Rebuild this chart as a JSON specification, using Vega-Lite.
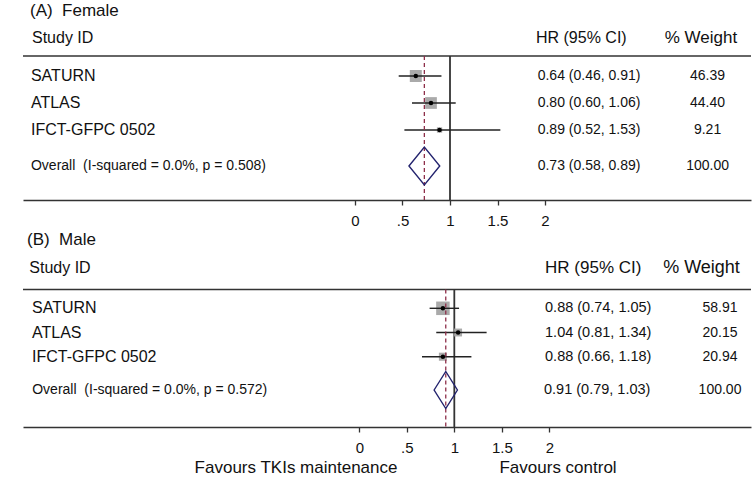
{
  "$schema": "https://vega.github.io/schema/vega-lite/v6.json",
  "padding": {"left": 22, "top": 0, "right": 0, "bottom": 0},
  "background": "white",
  "bounds": "flush",
  "spacing": 26,
  "config": {
    "view": {"stroke": null},
    "font": "Liberation Sans",
    "text": {"font": "Liberation Sans", "color": "#111", "baseline": "middle"},
    "axis": {
      "grid": false, "domainColor": "#333", "domainWidth": 1.6, "tickColor": "#333", "tickWidth": 1.3, "tickSize": 5,
      "labelFontSize": 15, "labelFont": "Liberation Sans", "labelColor": "#111", "labelPadding": 8,
      "labelExpr": "datum.value == 0.5 ? '.5' : datum.value == 1.5 ? '1.5' : toString(datum.value)"
    }
  },
  "datasets": {
    "studies": [
      {"panel": "A", "study": "SATURN", "order": 1, "hr": 0.64, "lo": 0.46, "hi": 0.91, "weight": 46.39, "ci": "0.64 (0.46, 0.91)"},
      {"panel": "A", "study": "ATLAS", "order": 2, "hr": 0.80, "lo": 0.60, "hi": 1.06, "weight": 44.40, "ci": "0.80 (0.60, 1.06)"},
      {"panel": "A", "study": "IFCT-GFPC 0502", "order": 3, "hr": 0.89, "lo": 0.52, "hi": 1.53, "weight": 9.21, "ci": "0.89 (0.52, 1.53)"},
      {"panel": "B", "study": "SATURN", "order": 1, "hr": 0.88, "lo": 0.74, "hi": 1.05, "weight": 58.91, "ci": "0.88 (0.74, 1.05)"},
      {"panel": "B", "study": "ATLAS", "order": 2, "hr": 1.04, "lo": 0.81, "hi": 1.34, "weight": 20.15, "ci": "1.04 (0.81, 1.34)"},
      {"panel": "B", "study": "IFCT-GFPC 0502", "order": 3, "hr": 0.88, "lo": 0.66, "hi": 1.18, "weight": 20.94, "ci": "0.88 (0.66, 1.18)"}
    ],
    "overall": [
      {"panel": "A", "label": "Overall\u00a0\u00a0(I-squared = 0.0%, p = 0.508)", "hr": 0.73, "lo": 0.58, "hi": 0.89, "weight": 100, "ci": "0.73 (0.58, 0.89)"},
      {"panel": "B", "label": "Overall\u00a0\u00a0(I-squared = 0.0%, p = 0.572)", "hr": 0.91, "lo": 0.79, "hi": 1.03, "weight": 100, "ci": "0.91 (0.79, 1.03)"}
    ]
  },
  "vconcat": [
    {
      "width": 728, "height": 200,
      "layer": [
        {"data": {"values": [{}]}, "mark": {"type": "rule", "color": "#333", "strokeWidth": 1.6},
         "encoding": {"y": {"datum": 0.2593, "scale": {"domain": [-1.8148, 5.5926], "reverse": true, "nice": false, "zero": false}, "axis": null}}},
        {"data": {"values": [{}]}, "mark": {"type": "rule", "color": "#333", "strokeWidth": 1.8},
         "encoding": {"x": {"datum": 1, "scale": {"domain": [-3.4947, 4.1684], "nice": false, "zero": false}, "axis": {"values": [0, 0.5, 1, 1.5, 2], "title": null}},
                      "y": {"datum": 0.2593}, "y2": {"datum": 5.5926}}},
        {"data": {"name": "studies"}, "transform": [{"filter": "datum.panel == 'A'"}],
         "mark": {"type": "square", "color": "#aaaaaa", "opacity": 1},
         "encoding": {"x": {"field": "hr", "type": "quantitative", "axis": {"values": [0, 0.5, 1, 1.5, 2], "title": null}},
                      "y": {"field": "order", "type": "quantitative"},
                      "size": {"field": "weight", "type": "quantitative", "scale": {"domain": [0, 100], "range": [0, 310]}, "legend": null}}},
        {"data": {"name": "studies"}, "transform": [{"filter": "datum.panel == 'A'"}],
         "mark": {"type": "rule", "color": "#222", "strokeWidth": 1.4},
         "encoding": {"x": {"field": "lo", "type": "quantitative", "axis": {"values": [0, 0.5, 1, 1.5, 2], "title": null}}, "x2": {"field": "hi"},
                      "y": {"field": "order", "type": "quantitative"}}},
        {"data": {"name": "studies"}, "transform": [{"filter": "datum.panel == 'A'"}],
         "mark": {"type": "circle", "color": "#000", "size": 20, "opacity": 1},
         "encoding": {"x": {"field": "hr", "type": "quantitative", "axis": {"values": [0, 0.5, 1, 1.5, 2], "title": null}},
                      "y": {"field": "order", "type": "quantitative"}}},
        {"data": {"name": "overall"}, "transform": [{"filter": "datum.panel == 'A'"}],
         "mark": {"type": "rule", "color": "#8e2f4a", "strokeWidth": 1.3, "strokeDash": [4, 3]},
         "encoding": {"x": {"field": "hr", "type": "quantitative", "axis": {"values": [0, 0.5, 1, 1.5, 2], "title": null}},
                      "y": {"datum": 0.2593}, "y2": {"datum": 5.5926}}},
        {"data": {"name": "overall"}, "transform": [{"filter": "datum.panel == 'A'"}],
         "mark": {"type": "point", "shape": "M-0.81,0L0,-1L0.81,0L0,1Z", "size": 1444, "filled": false, "color": "#23236e", "strokeWidth": 1.4, "opacity": 1},
         "encoding": {"x": {"field": "hr", "type": "quantitative", "axis": {"values": [0, 0.5, 1, 1.5, 2], "title": null}},
                      "y": {"datum": 4.333}}},
        {"data": {"values": [{}]}, "mark": {"type": "text", "text": "(A)\u00a0\u00a0Female", "fontSize": 17, "align": "left"},
         "encoding": {"x": {"datum": -3.421}, "y": {"datum": -1.389}}},
        {"data": {"values": [{}]}, "mark": {"type": "text", "text": "Study ID", "fontSize": 16, "align": "left"},
         "encoding": {"x": {"datum": -3.4}, "y": {"datum": -0.407}}},
        {"data": {"values": [{}]}, "mark": {"type": "text", "text": "HR (95% CI)", "fontSize": 16, "align": "left"},
         "encoding": {"x": {"datum": 1.905}, "y": {"datum": -0.407}}},
        {"data": {"values": [{}]}, "mark": {"type": "text", "text": "% Weight", "fontSize": 17, "align": "center"},
         "encoding": {"x": {"datum": 3.642}, "y": {"datum": -0.407}}},
        {"data": {"name": "studies"}, "transform": [{"filter": "datum.panel == 'A'"}],
         "mark": {"type": "text", "fontSize": 16, "align": "left"},
         "encoding": {"x": {"datum": -3.411}, "y": {"field": "order", "type": "quantitative"}, "text": {"field": "study"}}},
        {"data": {"name": "studies"}, "transform": [{"filter": "datum.panel == 'A'"}],
         "mark": {"type": "text", "fontSize": 14, "align": "left"},
         "encoding": {"x": {"datum": 1.923}, "y": {"field": "order", "type": "quantitative"}, "text": {"field": "ci"}}},
        {"data": {"name": "studies"}, "transform": [{"filter": "datum.panel == 'A'"}],
         "mark": {"type": "text", "fontSize": 14, "align": "center"},
         "encoding": {"x": {"datum": 3.711}, "y": {"field": "order", "type": "quantitative"}, "text": {"field": "weight", "format": ".2f"}}},
        {"data": {"name": "overall"}, "transform": [{"filter": "datum.panel == 'A'"}],
         "mark": {"type": "text", "fontSize": 14, "align": "left"},
         "encoding": {"x": {"datum": -3.411}, "y": {"datum": 4.333}, "text": {"field": "label"}}},
        {"data": {"name": "overall"}, "transform": [{"filter": "datum.panel == 'A'"}],
         "mark": {"type": "text", "fontSize": 14, "align": "left"},
         "encoding": {"x": {"datum": 1.923}, "y": {"datum": 4.333}, "text": {"field": "ci"}}},
        {"data": {"name": "overall"}, "transform": [{"filter": "datum.panel == 'A'"}],
         "mark": {"type": "text", "fontSize": 14, "align": "center"},
         "encoding": {"x": {"datum": 3.711}, "y": {"datum": 4.333}, "text": {"field": "weight", "format": ".2f"}}}
      ]
    },
    {
      "width": 728, "height": 201,
      "layer": [
        {"data": {"values": [{}]}, "mark": {"type": "rule", "color": "#333", "strokeWidth": 1.6},
         "encoding": {"y": {"datum": 0.223, "scale": {"domain": [-2.401, 5.905], "reverse": true, "nice": false, "zero": false}, "axis": null}}},
        {"data": {"values": [{}]}, "mark": {"type": "rule", "color": "#333", "strokeWidth": 1.8},
         "encoding": {"x": {"datum": 1, "scale": {"domain": [-3.54, 4.123], "nice": false, "zero": false}, "axis": {"values": [0, 0.5, 1, 1.5, 2], "title": null}},
                      "y": {"datum": 0.223}, "y2": {"datum": 5.905}}},
        {"data": {"name": "studies"}, "transform": [{"filter": "datum.panel == 'B'"}],
         "mark": {"type": "square", "color": "#aaaaaa", "opacity": 1},
         "encoding": {"x": {"field": "hr", "type": "quantitative", "axis": {"values": [0, 0.5, 1, 1.5, 2], "title": null}},
                      "y": {"field": "order", "type": "quantitative"},
                      "size": {"field": "weight", "type": "quantitative", "scale": {"domain": [0, 100], "range": [0, 170]}, "legend": null}}},
        {"data": {"name": "studies"}, "transform": [{"filter": "datum.panel == 'B'"}],
         "mark": {"type": "rule", "color": "#222", "strokeWidth": 1.4},
         "encoding": {"x": {"field": "lo", "type": "quantitative", "axis": {"values": [0, 0.5, 1, 1.5, 2], "title": null}}, "x2": {"field": "hi"},
                      "y": {"field": "order", "type": "quantitative"}}},
        {"data": {"name": "studies"}, "transform": [{"filter": "datum.panel == 'B'"}],
         "mark": {"type": "circle", "color": "#000", "size": 20, "opacity": 1},
         "encoding": {"x": {"field": "hr", "type": "quantitative", "axis": {"values": [0, 0.5, 1, 1.5, 2], "title": null}},
                      "y": {"field": "order", "type": "quantitative"}}},
        {"data": {"name": "overall"}, "transform": [{"filter": "datum.panel == 'B'"}],
         "mark": {"type": "rule", "color": "#8e2f4a", "strokeWidth": 1.3, "strokeDash": [4, 3]},
         "encoding": {"x": {"field": "hr", "type": "quantitative", "axis": {"values": [0, 0.5, 1, 1.5, 2], "title": null}},
                      "y": {"datum": 0.223}, "y2": {"datum": 5.905}}},
        {"data": {"name": "overall"}, "transform": [{"filter": "datum.panel == 'B'"}],
         "mark": {"type": "point", "shape": "M-0.63,0L0,-1L0.63,0L0,1Z", "size": 1369, "filled": false, "color": "#23236e", "strokeWidth": 1.4, "opacity": 1},
         "encoding": {"x": {"field": "hr", "type": "quantitative", "axis": {"values": [0, 0.5, 1, 1.5, 2], "title": null}},
                      "y": {"datum": 4.376}}},
        {"data": {"values": [{}]}, "mark": {"type": "text", "text": "(B)\u00a0\u00a0Male", "fontSize": 17, "align": "left"},
         "encoding": {"x": {"datum": -3.498}, "y": {"datum": -1.802}}},
        {"data": {"values": [{}]}, "mark": {"type": "text", "text": "Study ID", "fontSize": 16, "align": "left"},
         "encoding": {"x": {"datum": -3.474}, "y": {"datum": -0.653}}},
        {"data": {"values": [{}]}, "mark": {"type": "text", "text": "HR (95% CI)", "fontSize": 17, "align": "left"},
         "encoding": {"x": {"datum": 1.955}, "y": {"datum": -0.653}}},
        {"data": {"values": [{}]}, "mark": {"type": "text", "text": "% Weight", "fontSize": 18, "align": "center"},
         "encoding": {"x": {"datum": 3.602}, "y": {"datum": -0.653}}},
        {"data": {"name": "studies"}, "transform": [{"filter": "datum.panel == 'B'"}],
         "mark": {"type": "text", "fontSize": 16, "align": "left"},
         "encoding": {"x": {"datum": -3.445}, "y": {"field": "order", "type": "quantitative"}, "text": {"field": "study"}}},
        {"data": {"name": "studies"}, "transform": [{"filter": "datum.panel == 'B'"}],
         "mark": {"type": "text", "fontSize": 14.5, "align": "left"},
         "encoding": {"x": {"datum": 1.955}, "y": {"field": "order", "type": "quantitative"}, "text": {"field": "ci"}}},
        {"data": {"name": "studies"}, "transform": [{"filter": "datum.panel == 'B'"}],
         "mark": {"type": "text", "fontSize": 14, "align": "center"},
         "encoding": {"x": {"datum": 3.797}, "y": {"field": "order", "type": "quantitative"}, "text": {"field": "weight", "format": ".2f"}}},
        {"data": {"name": "overall"}, "transform": [{"filter": "datum.panel == 'B'"}],
         "mark": {"type": "text", "fontSize": 14, "align": "left"},
         "encoding": {"x": {"datum": -3.443}, "y": {"datum": 4.376}, "text": {"field": "label"}}},
        {"data": {"name": "overall"}, "transform": [{"filter": "datum.panel == 'B'"}],
         "mark": {"type": "text", "fontSize": 14.5, "align": "left"},
         "encoding": {"x": {"datum": 1.944}, "y": {"datum": 4.376}, "text": {"field": "ci"}}},
        {"data": {"name": "overall"}, "transform": [{"filter": "datum.panel == 'B'"}],
         "mark": {"type": "text", "fontSize": 14, "align": "center"},
         "encoding": {"x": {"datum": 3.797}, "y": {"datum": 4.376}, "text": {"field": "weight", "format": ".2f"}}},
        {"data": {"values": [{}]}, "mark": {"type": "text", "text": "Favours TKIs maintenance", "fontSize": 17, "align": "center"},
         "encoding": {"x": {"datum": -0.666}, "y": {"datum": 7.599}}},
        {"data": {"values": [{}]}, "mark": {"type": "text", "text": "Favours control", "fontSize": 17, "align": "center"},
         "encoding": {"x": {"datum": 2.092}, "y": {"datum": 7.599}}}
      ]
    }
  ]
}
